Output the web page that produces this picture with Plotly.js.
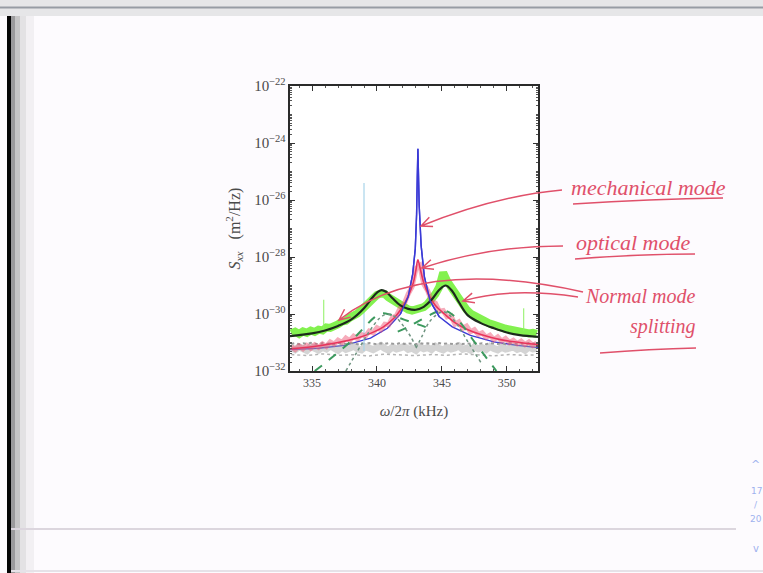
<!DOCTYPE html>
<html>
<head>
<meta charset="utf-8">
<script src="https://cdn.plot.ly/plotly-3.0.1.min.js"></script>
<style>html,body{margin:0;padding:0;background:#fdfbfe;}#chart{width:763px;height:573px;}</style>
</head>
<body>
<div id="chart"></div>
<script>
// ---- data (frequencies in kHz, spectral densities stored as log10(S)) ----
const gridX = [333.4,333.7,334.0,334.3,334.6,334.9,335.2,335.5,
  335.8,336.1,336.4,336.7,337.0,337.3,337.6,337.9,
  338.2,338.5,338.8,339.1,339.4,339.7,340.0,340.3,
  340.6,340.9,341.2,341.5,341.8,342.1,342.4,342.7,
  343.0,343.3,343.6,343.9,344.2,344.5,344.8,345.1,
  345.4,345.7,346.0,346.3,346.6,346.9,347.2,347.5,
  347.8,348.1,348.4,348.7,349.0,349.3,349.6,349.9,
  350.2,350.5,350.8,351.1,351.4,351.7,352.0,352.3];
const greenLog = [-30.68,-30.62,-30.70,-30.61,-30.66,-30.58,-30.63,-30.55,
  -30.58,-30.47,-30.49,-30.38,-30.36,-30.27,-30.24,-30.13,
  -30.09,-29.98,-29.86,-29.72,-29.52,-29.40,-29.33,-29.28,
  -29.30,-29.42,-29.52,-29.62,-29.72,-29.80,-29.84,-29.88,
  -29.86,-29.82,-29.76,-29.65,-29.50,-29.30,-29.05,-28.55,
  -28.85,-29.05,-29.30,-29.52,-29.70,-29.85,-29.98,-30.06,
  -30.16,-30.22,-30.26,-30.34,-30.38,-30.44,-30.46,-30.52,
  -30.54,-30.58,-30.60,-30.63,-30.64,-30.68,-30.66,-30.70];
const pinkLog = [-31.15,-31.25,-31.12,-31.22,-31.10,-31.20,-31.08,-31.17,
  -31.05,-31.14,-30.98,-31.06,-30.92,-31.00,-30.84,-30.93,
  -30.78,-30.86,-30.72,-30.78,-30.60,-30.66,-30.48,-30.55,
  -30.36,-30.38,-30.12,-30.06,-29.78,-29.64,-29.30,-29.05,
  -28.40,-28.30,-28.95,-29.18,-29.55,-29.62,-29.90,-29.88,
  -30.10,-30.06,-30.36,-30.28,-30.50,-30.42,-30.62,-30.55,
  -30.72,-30.66,-30.82,-30.74,-30.90,-30.80,-30.95,-30.86,
  -31.00,-30.92,-31.04,-30.95,-31.07,-30.98,-31.10,-31.02];
const grayLog = [-31.18,-31.25,-31.15,-31.22,-31.28,-31.14,-31.20,-31.26,
  -31.17,-31.23,-31.12,-31.21,-31.27,-31.16,-31.24,-31.19,
  -31.13,-31.22,-31.26,-31.15,-31.20,-31.25,-31.18,-31.11,
  -31.21,-31.27,-31.16,-31.23,-31.19,-31.14,-31.24,-31.20,
  -31.28,-31.15,-31.22,-31.18,-31.25,-31.13,-31.21,-31.26,
  -31.17,-31.23,-31.19,-31.12,-31.24,-31.20,-31.27,-31.16,
  -31.22,-31.18,-31.25,-31.14,-31.21,-31.26,-31.17,-31.23,
  -31.20,-31.15,-31.24,-31.19,-31.27,-31.16,-31.22,-31.20];
const grayDotLog = [-31.05,-31.02,-31.06,-31.03,-31.05,-31.01,-31.04,-31.06,
  -31.02,-31.05,-31.03,-31.06,-31.02,-31.04,-31.05,-31.01,
  -31.04,-31.06,-31.03,-31.05,-31.02,-31.04,-31.06,-31.03,
  -31.05,-31.02,-31.04,-31.06,-31.01,-31.05,-31.03,-31.04,
  -31.06,-31.02,-31.05,-31.03,-31.04,-31.06,-31.02,-31.05,
  -31.03,-31.04,-31.06,-31.02,-31.05,-31.03,-31.04,-31.01,
  -31.05,-31.03,-31.06,-31.02,-31.04,-31.05,-31.03,-31.06,
  -31.02,-31.04,-31.05,-31.03,-31.06,-31.02,-31.04,-31.05];
const grayLowX = [333.4,334.6,335.8,337.0,338.2,339.4,340.6,341.8,343.0,344.2,345.4,346.6,347.8,349.0,350.2,351.4,352.3];
const grayLowLog = [-31.42,-31.46,-31.40,-31.45,-31.43,-31.47,-31.41,-31.44,-31.46,-31.42,-31.45,-31.40,-31.44,-31.47,-31.42,-31.45,-31.43];

const fitX = [333.3,334.0,335.0,336.0,337.0,338.0,339.0,339.6,340.0,340.35,340.7,341.2,341.8,342.4,343.0,343.6,344.2,344.8,345.3,345.8,346.3,347.0,348.0,349.0,350.0,351.0,352.4];
const fitLog = [-30.78,-30.74,-30.68,-30.58,-30.42,-30.20,-29.80,-29.45,-29.25,-29.16,-29.22,-29.45,-29.70,-29.82,-29.85,-29.75,-29.50,-29.15,-29.00,-29.20,-29.58,-30.05,-30.32,-30.50,-30.65,-30.74,-30.80];

const optX = [333.3,335.0,337.0,338.5,339.5,340.5,341.3,341.9,342.4,342.8,343.0,343.15,343.3,343.6,344.0,344.5,345.2,346.0,347.0,348.0,349.5,351.0,352.4];
const optLog = [-31.22,-31.15,-31.00,-30.84,-30.68,-30.45,-30.15,-29.80,-29.38,-28.90,-28.45,-28.10,-28.35,-28.90,-29.35,-29.70,-30.00,-30.30,-30.55,-30.72,-30.90,-31.00,-31.07];

const mechX = [333.3,335.5,337.5,339.5,340.8,341.8,342.4,342.75,342.95,343.05,343.1,343.15,343.25,343.4,343.65,344.1,344.8,345.8,347.2,349.0,350.8,352.4];
const mechLog = [-31.25,-31.2,-31.1,-30.85,-30.50,-30.00,-29.40,-28.60,-27.70,-26.50,-25.20,-24.20,-26.20,-27.60,-28.70,-29.55,-30.10,-30.45,-30.75,-30.98,-31.1,-31.18];

const compAX = [335.2,336.0,337.0,338.0,339.0,339.8,340.4,341.0,341.8,342.6,343.4,344.2];
const compALog = [-32.0,-31.72,-31.35,-30.95,-30.48,-30.12,-29.98,-30.02,-30.15,-30.28,-30.40,-30.55];
const compBX = [341.6,342.4,343.2,344.0,344.6,345.2,345.8,346.5,347.3,348.2,349.2];
const compBLog = [-30.62,-30.45,-30.25,-30.05,-29.92,-29.88,-30.02,-30.35,-30.85,-31.40,-32.0];

const dotAX = [337.6,338.5,339.4,340.2,340.8,341.4,342.0,342.6,343.1];
const dotALog = [-32.0,-31.3,-30.62,-30.15,-30.0,-30.1,-30.4,-30.8,-31.25];
const dotBX = [343.0,343.5,344.0,344.6,345.1,345.6,346.3,347.1,348.0];
const dotBLog = [-31.2,-30.75,-30.3,-30.02,-29.92,-30.05,-30.45,-31.05,-31.7];

const lineSpikeX = [339.0,339.0];
const lineSpikeLog = [-31.3,-25.4];
const greenSpikeX = [335.9,335.9,null,351.3,351.3];
const greenSpikeLog = [-30.6,-29.5,null,-30.6,-29.8];

const xTicks = [335,340,345,350];

const S = a => a.map(v => v === null ? null : Math.pow(10, v));

// ---- layout geometry helpers (pixel -> paper) ----
const L = 290, R = 538, T = 86, B = 371;
const px = x => (x - L) / (R - L);
const py = y => (B - y) / (B - T);
const P = (x, y) => px(x).toFixed(4) + ',' + py(y).toFixed(4);
function curve(s, c, e, head) {
  let d = 'M' + P(s[0], s[1]) + ' Q' + P(c[0], c[1]) + ' ' + P(e[0], e[1]);
  if (head) {
    const dx = e[0] - c[0], dy = e[1] - c[1], n = Math.hypot(dx, dy);
    const ux = dx / n, uy = dy / n, bx = e[0] - 11 * ux, by = e[1] - 11 * uy;
    d += ' M' + P(bx - 5 * uy, by + 5 * ux) + ' L' + P(e[0], e[1]) + ' L' + P(bx + 5 * uy, by - 5 * ux);
  }
  return d;
}

const traces = [
  {x: mechX, y: S(mechLog), mode: 'lines', line: {color: '#3a3ad6', width: 1.4}, hoverinfo: 'skip'},
  {x: gridX, y: S(grayLog), mode: 'lines', line: {color: 'rgba(160,160,160,0.45)', width: 7}, hoverinfo: 'skip'},
  {x: gridX, y: S(grayDotLog), mode: 'lines', line: {color: '#9a9a9a', width: 2, dash: 'dot'}, hoverinfo: 'skip'},
  {x: grayLowX, y: S(grayLowLog), mode: 'lines', line: {color: '#b4b4b4', width: 1.5, dash: 'dot'}, hoverinfo: 'skip'},
  {x: lineSpikeX, y: S(lineSpikeLog), mode: 'lines', line: {color: '#a8d4ea', width: 1.2}, hoverinfo: 'skip'},
  {x: gridX, y: S(greenLog), mode: 'lines', line: {color: 'rgba(118,240,60,0.9)', width: 8}, hoverinfo: 'skip'},
  {x: greenSpikeX, y: S(greenSpikeLog), mode: 'lines', line: {color: '#8cf060', width: 1}, connectgaps: false, hoverinfo: 'skip'},
  {x: gridX, y: S(pinkLog), mode: 'lines', line: {color: 'rgba(238,90,120,0.5)', width: 5}, hoverinfo: 'skip'},
  {x: optX, y: S(optLog), mode: 'lines', line: {color: '#e8345c', width: 1.6, shape: 'spline'}, hoverinfo: 'skip'},
  {x: compAX, y: S(compALog), mode: 'lines', line: {color: '#3c9a5e', width: 2, dash: 'dash', shape: 'spline'}, hoverinfo: 'skip'},
  {x: compBX, y: S(compBLog), mode: 'lines', line: {color: '#3c9a5e', width: 2, dash: 'dash', shape: 'spline'}, hoverinfo: 'skip'},
  {x: dotAX, y: S(dotALog), mode: 'lines', line: {color: '#6f9480', width: 1.5, dash: 'dot', shape: 'spline'}, hoverinfo: 'skip'},
  {x: dotBX, y: S(dotBLog), mode: 'lines', line: {color: '#6f9480', width: 1.5, dash: 'dot', shape: 'spline'}, hoverinfo: 'skip'},
  {x: fitX, y: S(fitLog), mode: 'lines', line: {color: '#1c2a1c', width: 2.2, shape: 'spline'}, hoverinfo: 'skip'},
  {x: mechX.slice(5, 17), y: S(mechLog.slice(5, 17)), mode: 'lines', line: {color: '#3a3ad6', width: 1.4}, hoverinfo: 'skip'}
];

const red = '#e0506a';
const hand = 'Liberation Serif, DejaVu Serif, serif';
const nav = '#9fb2ee';

const shapes = [
  // slide viewer chrome
  {type: 'rect', xref: 'paper', yref: 'paper', x0: px(0), x1: px(763), y0: py(16), y1: py(0), fillcolor: '#e6e6e8', line: {width: 0}, layer: 'below'},
  {type: 'line', xref: 'paper', yref: 'paper', x0: px(0), x1: px(763), y0: py(7.5), y1: py(7.5), line: {color: '#979ca4', width: 2}, layer: 'below'},
  {type: 'rect', xref: 'paper', yref: 'paper', x0: px(7), x1: px(11), y0: py(573), y1: py(16), fillcolor: '#050505', line: {width: 0}, layer: 'below'},
  {type: 'rect', xref: 'paper', yref: 'paper', x0: px(11), x1: px(15), y0: py(573), y1: py(16), fillcolor: 'rgba(90,90,90,0.6)', line: {width: 0}, layer: 'below'},
  {type: 'rect', xref: 'paper', yref: 'paper', x0: px(15), x1: px(20), y0: py(573), y1: py(16), fillcolor: 'rgba(130,130,130,0.45)', line: {width: 0}, layer: 'below'},
  {type: 'rect', xref: 'paper', yref: 'paper', x0: px(20), x1: px(26), y0: py(573), y1: py(16), fillcolor: 'rgba(170,170,170,0.3)', line: {width: 0}, layer: 'below'},
  {type: 'rect', xref: 'paper', yref: 'paper', x0: px(26), x1: px(34), y0: py(573), y1: py(16), fillcolor: 'rgba(200,200,200,0.2)', line: {width: 0}, layer: 'below'},
  {type: 'line', xref: 'paper', yref: 'paper', x0: px(11), x1: px(736), y0: py(529), y1: py(529), line: {color: '#dcd6de', width: 2}, layer: 'below'},
  {type: 'line', xref: 'paper', yref: 'paper', x0: px(11), x1: px(763), y0: py(571), y1: py(571), line: {color: '#e6e2e8', width: 2}, layer: 'below'},
  // handwritten red strokes
  {type: 'path', xref: 'paper', yref: 'paper', path: curve([562, 190], [495, 196], [421, 226], true), line: {color: red, width: 1.5}},
  {type: 'path', xref: 'paper', yref: 'paper', path: curve([563, 246], [488, 246], [422, 268], true), line: {color: red, width: 1.5}},
  {type: 'path', xref: 'paper', yref: 'paper', path: curve([583, 292], [420, 256], [339, 320], true), line: {color: red, width: 1.5}},
  {type: 'path', xref: 'paper', yref: 'paper', path: curve([578, 297], [510, 287], [463, 301], true), line: {color: red, width: 1.5}},
  {type: 'path', xref: 'paper', yref: 'paper', path: curve([573, 204], [650, 199], [723, 198], false), line: {color: red, width: 1.5}},
  {type: 'path', xref: 'paper', yref: 'paper', path: curve([575, 259], [640, 254], [695, 254], false), line: {color: red, width: 1.5}},
  {type: 'path', xref: 'paper', yref: 'paper', path: curve([600, 353], [650, 349], [696, 348], false), line: {color: red, width: 1.5}}
];

function note(x, y, text, font) {
  return {xref: 'paper', yref: 'paper', x: px(x), y: py(y), xanchor: 'center', yanchor: 'middle', text: text, showarrow: false, font: font};
}
const annotations = [
  note(648, 187, '<i>mechanical mode</i>', {family: hand, size: 22, color: red}),
  note(633, 243, '<i>optical mode</i>', {family: hand, size: 22, color: red}),
  note(640, 296, '<i>Normal mode</i>', {family: hand, size: 20, color: red}),
  note(663, 326, '<i>splitting</i>', {family: hand, size: 20, color: red}),
  note(755, 464, '^', {family: 'DejaVu Sans', size: 11, color: nav}),
  note(756, 491, '17', {family: 'DejaVu Sans', size: 9, color: nav}),
  note(756, 505, '/', {family: 'DejaVu Sans', size: 9, color: nav}),
  note(756, 519, '20', {family: 'DejaVu Sans', size: 9, color: nav}),
  note(756, 548, 'v', {family: 'DejaVu Sans', size: 10, color: nav})
];

const axisFont = {family: 'Liberation Serif, DejaVu Serif, serif', size: 12, color: '#4a4a4a'};
const titleFont = {family: 'Liberation Serif, DejaVu Serif, serif', size: 15, color: '#4a4a4a'};

const layout = {
  width: 763, height: 573,
  margin: {l: L, r: 763 - R, t: T, b: 573 - B, pad: 0},
  paper_bgcolor: '#fdfbfe',
  plot_bgcolor: '#ffffff',
  showlegend: false,
  xaxis: {
    range: [333.3, 352.4], tickvals: xTicks, ticks: 'inside', ticklen: 5, tickcolor: '#333',
    showline: true, linecolor: '#2a2a2a', linewidth: 2, mirror: 'ticks', showgrid: false, zeroline: false,
    minor: {dtick: 1, ticks: 'inside', ticklen: 2, tickcolor: '#555'},
    tickfont: axisFont, automargin: false,
    title: {text: '<i>ω</i>/2<i>π</i> (kHz)', font: titleFont, standoff: 16}
  },
  yaxis: {
    type: 'log', range: [-32, -22], dtick: 2, tick0: 0, exponentformat: 'power',
    ticks: 'inside', ticklen: 5, tickcolor: '#333',
    showline: true, linecolor: '#2a2a2a', linewidth: 2, mirror: 'ticks', showgrid: false, zeroline: false,
    minor: {dtick: 'D1', ticks: 'inside', ticklen: 2, tickcolor: '#555'},
    tickfont: axisFont, automargin: false,
    title: {text: '<i>S<sub>xx</sub></i>   (m<sup>2</sup>/Hz)', font: {family: titleFont.family, size: 16, color: '#4a4a4a'}, standoff: 10}
  },
  shapes: shapes,
  annotations: annotations
};

Plotly.newPlot('chart', traces, layout, {staticPlot: true, displayModeBar: false});
</script>
</body>
</html>
